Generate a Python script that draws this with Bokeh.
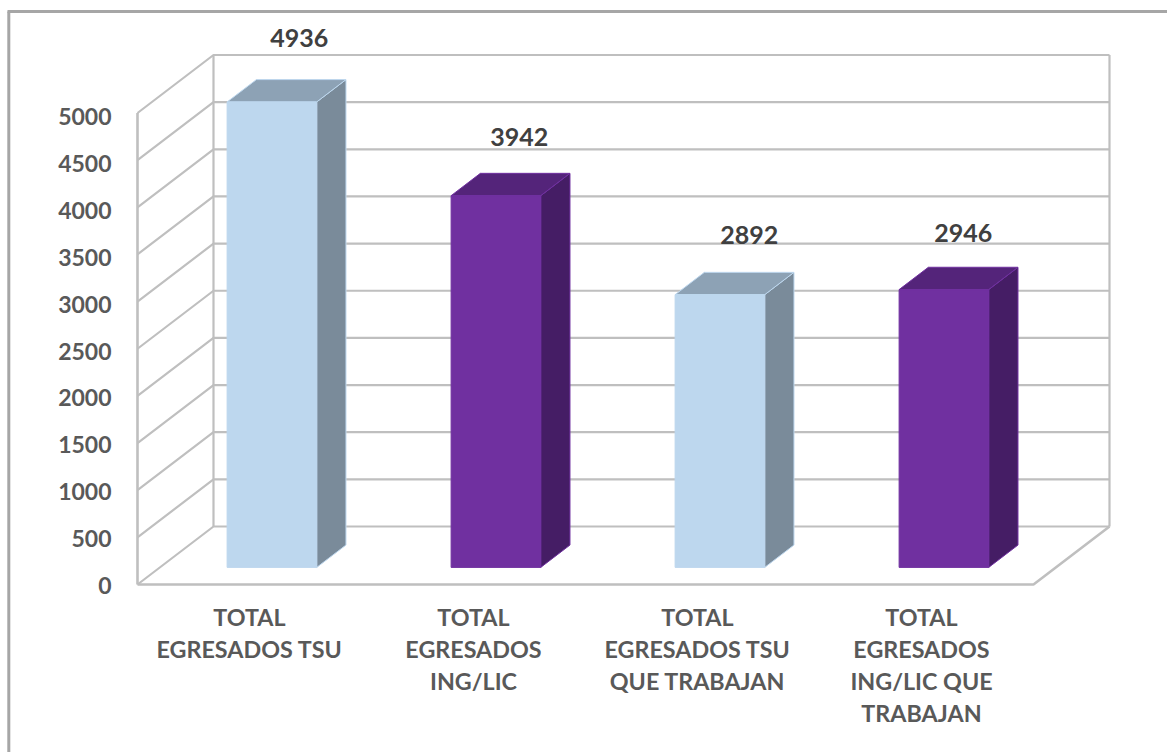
from bokeh.embed import file_html
from bokeh.resources import INLINE
from bokeh.plotting import figure
from bokeh.models import LinearAxis, FixedTicker, Range1d
from bokeh.core.properties import value as V

categories = ["TOTAL\nEGRESADOS TSU", "TOTAL\nEGRESADOS\nING/LIC",
              "TOTAL\nEGRESADOS TSU\nQUE TRABAJAN", "TOTAL\nEGRESADOS\nING/LIC QUE\nTRABAJAN"]
values = [4936, 3942, 2892, 2946]
y_ticks = [0, 500, 1000, 1500, 2000, 2500, 3000, 3500, 4000, 4500, 5000]
front_colors = ["#BDD7EE", "#7030A0", "#BDD7EE", "#7030A0"]
top_colors = ["#8DA2B5", "#54247A", "#8DA2B5", "#54247A"]
side_colors = ["#7A8B9A", "#451D65", "#7A8B9A", "#451D65"]
edge_colors = ["#BDD7EE", "#7030A0", "#BDD7EE", "#7030A0"]
label_nudge_x = [-2, -6, 0, -10]
label_nudge_y = [-3, 3, 2, 5]

# pixel scale of the sheet (frame fills the whole figure)
PX_LEFT, PX_RIGHT, PX_TOP, PX_BOTTOM = 0, 1167, 0, 752
X0, X_UNIT, Y0, Y_UNIT = 137, 224, 584, 0.0943
DEPTH_X = 76 / X_UNIT      # depth vector in data units
DEPTH_Y = 58 / Y_UNIT
BAR_WIDTH = 0.40
BAR_Z0, BAR_Z1 = 0.295, 0.68
YMAX = y_ticks[-1]
N = len(values)


def ux(px):
    return (px - X0) / X_UNIT


def uy(py):
    return (Y0 - py) / Y_UNIT


def proj(x, v, z):
    return x + z * DEPTH_X, v + z * DEPTH_Y


p = figure(width=PX_RIGHT - PX_LEFT, height=PX_BOTTOM - PX_TOP,
           x_range=Range1d(ux(PX_LEFT), ux(PX_RIGHT)),
           y_range=Range1d(uy(PX_BOTTOM), uy(PX_TOP)),
           output_backend="svg", toolbar_location=None,
           min_border=0, min_border_left=0, min_border_right=0,
           min_border_top=0, min_border_bottom=0,
           x_axis_location=None, y_axis_location=None)
p.grid.visible = False
p.outline_line_color = None
p.background_fill_color = "white"
p.border_fill_color = "white"

# sheet border: left and top only
BORDER = "#A6A6A6"
p.line([ux(8.3), ux(8.3)], [uy(11), uy(PX_BOTTOM)], line_color=BORDER, line_width=3)
p.line([ux(7), ux(PX_RIGHT)], [uy(11), uy(11)], line_color=BORDER, line_width=3)

GRID = "#BFBFBF"
LW = 2.2
for t in y_ticks:
    # side wall + back wall
    xa, ya = proj(0, t, 0)
    xb, yb = proj(0, t, 1)
    xc, yc = proj(N, t, 1)
    p.line([xa, xb, xc], [ya, yb, yc], line_color=GRID, line_width=LW)
# verticals
p.line(*zip(proj(0, 0, 0), proj(0, YMAX, 0)), line_color=GRID, line_width=LW + 0.4)
p.line(*zip(proj(0, 0, 1), proj(0, YMAX, 1)), line_color=GRID, line_width=LW)
p.line(*zip(proj(N, 0, 1), proj(N, YMAX, 1)), line_color=GRID, line_width=LW)
# floor
p.line(*zip(proj(0, 0, 0), proj(N, 0, 0), proj(N, 0, 1)), line_color=GRID, line_width=LW + 0.4)

# bars
for i, v in enumerate(values):
    cx = i + 0.5
    l, r = cx - BAR_WIDTH / 2, cx + BAR_WIDTH / 2
    a = proj(l, 0, BAR_Z0)
    b = proj(r, 0, BAR_Z0)
    c = proj(r, v, BAR_Z0)
    d = proj(l, v, BAR_Z0)
    e = proj(r, 0, BAR_Z1)
    f = proj(r, v, BAR_Z1)
    g = proj(l, v, BAR_Z1)
    p.patch(*zip(b, e, f, c), fill_color=side_colors[i], line_color=edge_colors[i], line_width=1)
    p.patch(*zip(d, c, f, g), fill_color=top_colors[i], line_color=edge_colors[i], line_width=1)
    p.patch(*zip(a, b, c, d), fill_color=front_colors[i], line_color=edge_colors[i], line_width=1)

# data labels
FONT = "Lato"
lx, ly = [], []
for i, v in enumerate(values):
    x, y = proj(i + 0.5, v, BAR_Z1)
    lx.append(x)
    ly.append(y)
p.text(lx, ly, text=[str(v) for v in values], text_align="center", text_baseline="middle",
       x_offset=label_nudge_x, y_offset=[n - 39 for n in label_nudge_y],
       text_font=V(FONT), text_font_style="bold", text_font_size="25px", text_color="#404040")

# value axis: labels on a slightly shifted scale, as the original prints them
LBL_Y0, LBL_UNIT = 585, 0.0938
p.extra_y_ranges["labels"] = Range1d((LBL_Y0 - PX_BOTTOM) / LBL_UNIT, (LBL_Y0 - PX_TOP) / LBL_UNIT)
ya = LinearAxis(y_range_name="labels", fixed_location=0, ticker=FixedTicker(ticks=y_ticks),
                axis_line_color=None, major_tick_line_color=None, minor_tick_line_color=None,
                major_label_standoff=20)
ya.major_label_text_font = FONT
ya.major_label_text_font_style = "bold"
ya.major_label_text_font_size = "23px"
ya.major_label_text_color = "#595959"
p.add_layout(ya, "left")

# category axis
xa = LinearAxis(fixed_location=0, ticker=FixedTicker(ticks=[i + 0.5 for i in range(N)]),
                major_label_overrides={i + 0.5: c for i, c in enumerate(categories)},
                axis_line_color=None, major_tick_line_color=None, minor_tick_line_color=None,
                major_label_standoff=12)
xa.major_label_text_font = FONT
xa.major_label_text_font_style = "bold"
xa.major_label_text_font_size = "23.3px"
xa.major_label_text_color = "#595959"
xa.major_label_text_line_height = 1.15
p.add_layout(xa, "below")

open("out.html", "w").write(file_html(p, INLINE))
